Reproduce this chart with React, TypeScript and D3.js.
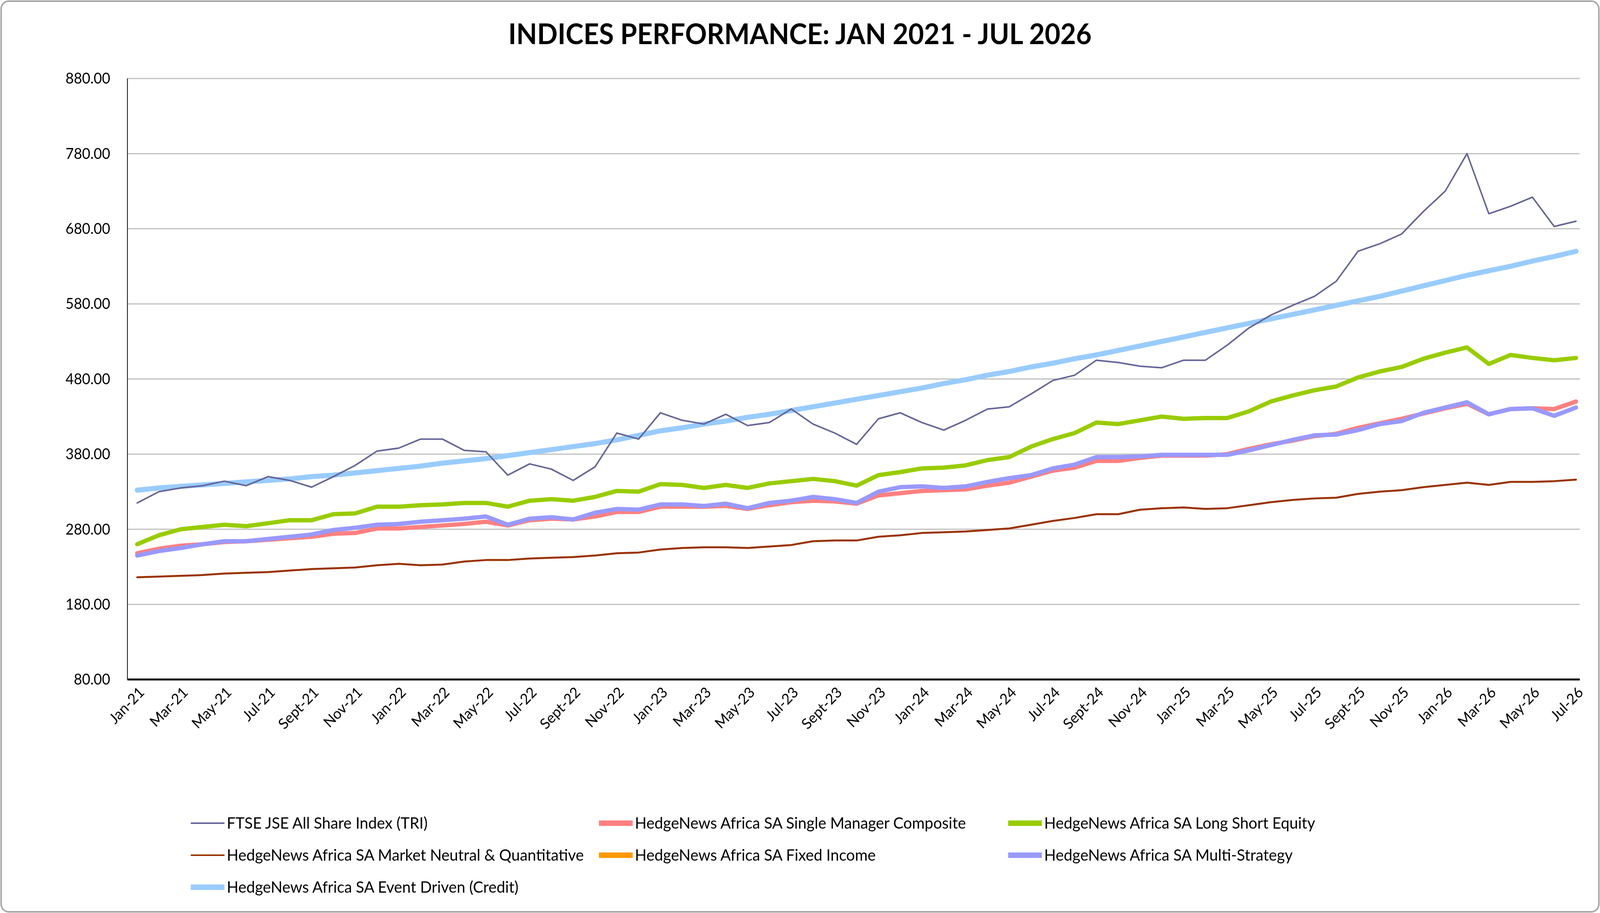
import React from 'react';
import * as d3 from 'd3';

const W = 4269;
const H = 2338;

const monthNames = ['Jan', 'Feb', 'Mar', 'Apr', 'May', 'Jun', 'Jul', 'Aug', 'Sept', 'Oct', 'Nov', 'Dec'];
const years = ['21', '22', '23', '24', '25', '26'];
const months: string[] = [];
years.forEach(y => monthNames.forEach(m => months.push(`${m}-${y}`)));
months.splice(67);

const yTicks = [80, 180, 280, 380, 480, 580, 680, 780, 880];

const ftse = [315, 330, 335, 338, 344, 338, 350, 345, 336, 350, 365, 384, 388, 400, 400, 385, 383, 352, 367, 360, 345, 363, 408, 400, 435, 425, 420, 433, 418, 422, 440, 420, 408, 393, 427, 435, 422, 412, 425, 440, 443, 460, 478, 485, 505, 502, 497, 495, 505, 505, 525, 548, 565, 578, 590, 610, 650, 660, 673, 703, 730, 780, 700, 710, 722, 683, 690];
const singleManager = [248, 254, 258, 260, 263, 264, 266, 268, 270, 274, 275, 281, 281, 283, 285, 287, 290, 285, 292, 294, 293, 297, 303, 303, 310, 310, 310, 311, 307, 312, 316, 318, 317, 314, 325, 328, 331, 332, 333, 338, 342, 350, 358, 362, 371, 371, 375, 378, 378, 378, 380, 387, 393, 398, 404, 407, 415, 421, 427, 434, 441, 447, 433, 440, 441, 440, 450];
const longShort = [260, 272, 280, 283, 286, 284, 288, 292, 292, 300, 301, 310, 310, 312, 313, 315, 315, 310, 318, 320, 318, 323, 331, 330, 340, 339, 335, 339, 335, 341, 344, 347, 344, 338, 352, 356, 361, 362, 365, 372, 376, 390, 400, 408, 422, 420, 425, 430, 427, 428, 428, 437, 450, 458, 465, 470, 482, 490, 496, 507, 515, 522, 500, 512, 508, 505, 508];
const marketNeutral = [216, 217, 218, 219, 221, 222, 223, 225, 227, 228, 229, 232, 234, 232, 233, 237, 239, 239, 241, 242, 243, 245, 248, 249, 253, 255, 256, 256, 255, 257, 259, 264, 265, 265, 270, 272, 275, 276, 277, 279, 281, 286, 291, 295, 300, 300, 306, 308, 309, 307, 308, 312, 316, 319, 321, 322, 327, 330, 332, 336, 339, 342, 339, 343, 343, 344, 346];
const fixedIncome: number[] = [];
const multiStrategy = [245, 251, 255, 260, 264, 264, 267, 270, 273, 279, 282, 286, 287, 290, 292, 294, 297, 286, 294, 296, 293, 302, 307, 306, 313, 313, 311, 314, 308, 315, 318, 323, 320, 315, 330, 336, 337, 335, 337, 343, 348, 352, 361, 366, 376, 376, 377, 379, 379, 379, 379, 385, 392, 399, 405, 406, 412, 420, 424, 435, 442, 449, 433, 440, 441, 431, 442];
const eventDriven = [332, 335, 337, 339, 341, 343, 345, 347, 350, 352, 355, 358, 361, 364, 368, 371, 374, 378, 382, 386, 390, 394, 399, 405, 411, 415, 420, 424, 429, 433, 438, 443, 448, 453, 458, 463, 468, 474, 479, 485, 490, 496, 501, 507, 512, 518, 524, 530, 536, 542, 548, 554, 560, 566, 572, 578, 584, 590, 597, 604, 611, 618, 624, 630, 637, 643, 650];

const series = [
  { name: 'FTSE JSE All Share Index (TRI)', values: ftse, color: '#666699', width: 4 },
  { name: 'HedgeNews Africa SA Single Manager Composite', values: singleManager, color: '#ff8080', width: 11 },
  { name: 'HedgeNews Africa SA Long Short Equity', values: longShort, color: '#99cc00', width: 11 },
  { name: 'HedgeNews Africa SA Market Neutral & Quantitative', values: marketNeutral, color: '#993300', width: 5 },
  { name: 'HedgeNews Africa SA Fixed Income', values: fixedIncome, color: '#ff9900', width: 11 },
  { name: 'HedgeNews Africa SA Multi-Strategy', values: multiStrategy, color: '#9999ff', width: 11 },
  { name: 'HedgeNews Africa SA Event Driven (Credit)', values: eventDriven, color: '#99ccff', width: 13 },
];
// draw order: event driven behind, ftse on top
const drawOrder = [6, 3, 2, 1, 5, 4, 0];

const FONT = 'Lato, "Open Sans", sans-serif';

export default function App() {
  const left = 340, right = 4215, top = 201, bottom = 1740;
  const x = d3.scalePoint<string>().domain(months).range([left + 26, right - 10]);
  const y = d3.scaleLinear().domain([80, 880]).range([bottom, top]);
  const line = (vals: number[]) =>
    d3.line<number>().x((_, i) => x(months[i])!).y(d => y(d))(vals) || '';

  const legendCols = [509, 1598, 2690];
  const legendRows = [2108, 2190, 2272];

  return (
    <svg viewBox={`0 0 ${W} ${H}`} preserveAspectRatio="none"
      style={{ display: 'block', position: 'fixed', left: 0, top: 0, width: '100vw', height: '100vh' }}>
      <rect x={3} y={3} width={W - 6} height={H - 6} rx={20} fill="#fff" stroke="#a6a6a6" strokeWidth={4} />
      <text x={W / 2} y={113} textAnchor="middle" fontFamily={FONT} fontWeight="bold" fontSize={72} fill="#000">
        INDICES PERFORMANCE: JAN 2021 - JUL 2026
      </text>
      {yTicks.map(t => (
        <g key={t}>
          {t !== 80 && <line x1={left} x2={right} y1={y(t)} y2={y(t)} stroke="#c0c0c0" strokeWidth={3} />}
          <text x={294} y={y(t)} dy="0.35em" textAnchor="end" fontFamily={FONT} fontSize={38} fill="#000">
            {t.toFixed(2)}
          </text>
        </g>
      ))}
      <line x1={left} x2={left} y1={top} y2={bottom} stroke="#000" strokeWidth={2} />
      <line x1={left} x2={right} y1={bottom} y2={bottom} stroke="#000" strokeWidth={5} />
      {months.map((m, i) => i % 2 === 0 && (
        <text key={m} transform={`translate(${x(m)! + 12},${bottom + 26}) rotate(-45)`} textAnchor="end"
          fontFamily={FONT} fontSize={38} fill="#000" dy="0.35em">{m}</text>
      ))}
      {drawOrder.map(k => {
        const s = series[k];
        return s.values.length ? (
          <path key={s.name} d={line(s.values)} fill="none" stroke={s.color} strokeWidth={s.width}
            strokeLinejoin="round" strokeLinecap="round" />
        ) : null;
      })}
      {series.map((s, i) => {
        const lx = legendCols[i % 3];
        const ly = legendRows[Math.floor(i / 3)];
        return (
          <g key={s.name}>
            <line x1={lx} x2={lx + 90} y1={ly} y2={ly} stroke={s.color} strokeWidth={s.width < 6 ? 4 : 14} />
            <text x={lx + 96} y={ly} dy="0.35em" fontFamily={FONT} fontSize={41} fill="#000">{s.name}</text>
          </g>
        );
      })}
    </svg>
  );
}
